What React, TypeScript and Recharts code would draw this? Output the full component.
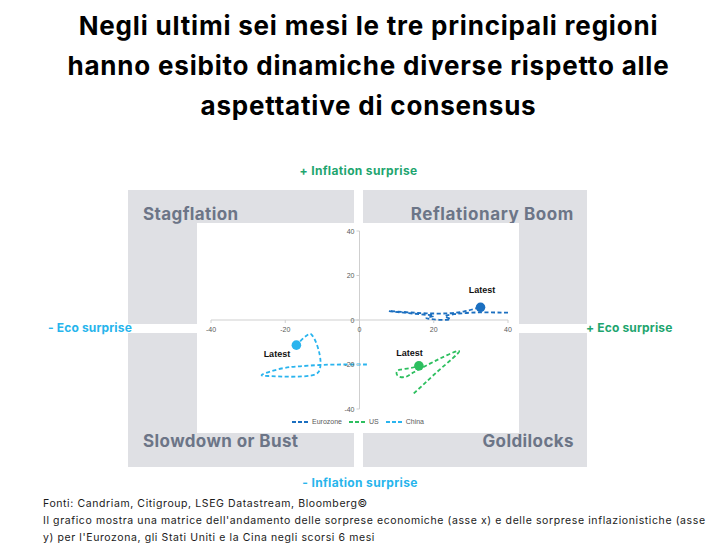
import React from "react";
import {
  ComposedChart,
  Line,
  XAxis,
  YAxis,
  ReferenceLine,
  ReferenceDot,
} from "recharts";

// axis ticks, both axes
const TICKS = [-40, -20, 0, 20, 40];

const SERIES_NAMES = ["Eurozone", "US", "China"];
const SERIES_COLORS = ["#1b6fc0", "#2dbf5f", "#2ab4ee"];

// eco surprise (x) / inflation surprise (y), last point = "Latest"
const euroX = [40, 35, 30, 25.5, 23, 24.5, 21.5, 18, 20, 15, 8, 12, 18, 24, 28, 30.5, 32.6];
const euroY = [3.3, 3.4, 3.3, 2.6, 1.6, 0.4, 0.1, 0.9, 1.8, 2.8, 4.0, 3.6, 3.0, 3.0, 3.8, 4.8, 5.7];

const usX = [14.6, 18, 22, 26.8, 23.6, 19.1, 14.6, 12.4, 10.4, 10, 11, 13.7, 16];
const usY = [-33, -27.8, -21.7, -14.3, -15.8, -19.5, -23.5, -25.6, -25.2, -23.3, -22.3, -21.6, -20.6];

const chinaX = [2, -4, -10.5, -16, -21, -26.2, -24, -18.6, -13.2, -11, -10.5, -10.7, -11.6, -12.8, -13.7, -15, -17];
const chinaY = [-20, -20, -20.2, -20.8, -21.8, -24.5, -25.2, -25.5, -25, -23.3, -20, -15.8, -10.5, -6.8, -6.4, -8, -11.3];

const toPoints = (xs: number[], ys: number[]) => xs.map((x, i) => ({ x, y: ys[i] }));
const seriesData = [toPoints(euroX, euroY), toPoints(usX, usY), toPoints(chinaX, chinaY)];

// where the "Latest" text sits relative to its dot
const LATEST_OFFSETS: [number, number][] = [[1.5, -14], [-9.5, -10], [-19.5, 12]];

const AXIS_COLOR = "#cfcfcf";
const TICK_TEXT = "#595959";
const GREEN = "#1ea56f";
const BLUE = "#27b5ec";
const BOX = "#dfe0e4";
const QUAD_TEXT = "#6c7587";
const HEAD_FONT = "Inter, 'Open Sans', sans-serif";
const CHART_FONT = "'Liberation Sans', Arial, sans-serif";

const xTick = (v: number) => (p: any) => (
  <g>
    <line x1={p.cx} y1={p.cy} x2={p.cx} y2={p.cy + 3} stroke={AXIS_COLOR} />
    <text x={p.cx} y={p.cy + 11.5} textAnchor="middle" fontSize={7} fill={TICK_TEXT} fontFamily={CHART_FONT}>
      {v}
    </text>
  </g>
);

const yTick = (v: number) => (p: any) => (
  <g>
    <line x1={p.cx - 3} y1={p.cy} x2={p.cx} y2={p.cy} stroke={AXIS_COLOR} />
    <text x={p.cx - 5} y={p.cy + 2.5} textAnchor="end" fontSize={7} fill={TICK_TEXT} fontFamily={CHART_FONT}>
      {v}
    </text>
  </g>
);

const latestDot = (i: number) => (p: any) => (
  <g>
    <circle cx={p.cx} cy={p.cy} r={4.8} fill={SERIES_COLORS[i]} />
    <text
      x={p.cx + LATEST_OFFSETS[i][0]}
      y={p.cy + LATEST_OFFSETS[i][1]}
      textAnchor="middle"
      fontSize={9}
      fontWeight={700}
      fill="#111"
      fontFamily={CHART_FONT}
    >
      Latest
    </text>
  </g>
);

function Text({
  children,
  left,
  top,
  width,
  align = "left",
  size,
  color,
  weight = 700,
  lh,
  ls = 0,
}: any) {
  return (
    <div
      style={{
        position: "absolute",
        left,
        top,
        width,
        textAlign: align,
        fontSize: size,
        color,
        fontWeight: weight,
        lineHeight: lh ? `${lh}px` : "1",
        letterSpacing: ls,
        fontFamily: HEAD_FONT,
        whiteSpace: "nowrap",
      }}
    >
      {children}
    </div>
  );
}

export default function App() {
  return (
    <div
      style={{
        position: "absolute",
        left: 0,
        top: 0,
        width: 718,
        height: 556,
        background: "#fff",
        overflow: "hidden",
      }}
    >
      <Text left={0} top={6} width={737} align="center" size={26} color="#000" lh={40} ls={0.8}>
        Negli ultimi sei mesi le tre principali regioni
        <br />
        hanno esibito dinamiche diverse rispetto alle
        <br />
        aspettative di consensus
      </Text>

      {/* quadrant boxes */}
      <div style={{ position: "absolute", left: 128, top: 190, width: 226, height: 134, background: BOX }} />
      <div style={{ position: "absolute", left: 363, top: 190, width: 224, height: 134, background: BOX }} />
      <div style={{ position: "absolute", left: 128, top: 333, width: 226, height: 134, background: BOX }} />
      <div style={{ position: "absolute", left: 363, top: 333, width: 224, height: 134, background: BOX }} />

      <Text left={143} top={206} size={17} color={QUAD_TEXT} ls={0.4}>Stagflation</Text>
      <Text left={373} top={206} width={201} align="right" size={17} color={QUAD_TEXT} ls={0.6}>Reflationary Boom</Text>
      <Text left={143} top={433} size={17} color={QUAD_TEXT} ls={0.4}>Slowdown or Bust</Text>
      <Text left={373} top={433} width={201} align="right" size={17} color={QUAD_TEXT} ls={0.4}>Goldilocks</Text>

      <Text left={0} top={165} width={717} align="center" size={12} color={GREEN} ls={0.35}>+ Inflation surprise</Text>
      <Text left={0} top={477} width={720} align="center" size={12} color={BLUE} ls={0.35}>- Inflation surprise</Text>
      <Text left={48} top={322} size={12} color={BLUE} ls={0.15}>- Eco surprise</Text>
      <Text left={586} top={322} size={12} color={GREEN} ls={0.15}>+ Eco surprise</Text>

      <div style={{ position: "absolute", left: 197, top: 223, width: 322, height: 210, background: "#fff" }}>
        <ComposedChart width={322} height={210} margin={{ top: 8, right: 11, bottom: 24, left: 14 }}>
          <XAxis type="number" dataKey="x" domain={[-40, 40]} ticks={TICKS} hide allowDataOverflow />
          <YAxis type="number" dataKey="y" domain={[-40, 40]} ticks={TICKS} hide allowDataOverflow />
          <ReferenceLine x={0} stroke={AXIS_COLOR} strokeWidth={1} />
          <ReferenceLine y={0} stroke={AXIS_COLOR} strokeWidth={1} />
          {TICKS.map((t) => (
            <ReferenceDot key={`x${t}`} x={t} y={0} r={0} ifOverflow="visible" shape={xTick(t)} />
          ))}
          {TICKS.map((t) => (
            <ReferenceDot key={`y${t}`} x={0} y={t} r={0} ifOverflow="visible" shape={yTick(t)} />
          ))}
          {seriesData.map((pts, i) => (
            <Line
              key={SERIES_NAMES[i]}
              data={pts}
              dataKey="y"
              type="natural"
              stroke={SERIES_COLORS[i]}
              strokeWidth={1.8}
              strokeDasharray="4 2.5"
              dot={false}
              activeDot={false}
              isAnimationActive={false}
            />
          ))}
          {seriesData.map((pts, i) => (
            <ReferenceDot
              key={`latest${i}`}
              x={pts[pts.length - 1].x}
              y={pts[pts.length - 1].y}
              r={0}
              ifOverflow="visible"
              shape={latestDot(i)}
            />
          ))}
        </ComposedChart>
      </div>

      {/* legend */}
      <div
        style={{
          position: "absolute",
          left: 197,
          top: 417,
          width: 322,
          display: "flex",
          justifyContent: "center",
          gap: 7,
          fontFamily: CHART_FONT,
          fontSize: 7,
          color: TICK_TEXT,
          lineHeight: "9px",
        }}
      >
        {SERIES_NAMES.map((n, i) => (
          <div key={n} style={{ display: "flex", alignItems: "center", gap: 2 }}>
            <svg width={18} height={4}>
              <line x1={0} y1={2} x2={18} y2={2} stroke={SERIES_COLORS[i]} strokeWidth={2} strokeDasharray="4 2" />
            </svg>
            <span>{n}</span>
          </div>
        ))}
      </div>

      <div
        style={{
          position: "absolute",
          left: 43,
          top: 495,
          width: 675,
          fontFamily: HEAD_FONT,
          fontSize: 10.5,
          letterSpacing: 0.6,
          lineHeight: "17px",
          color: "#1a1a1a",
          whiteSpace: "nowrap",
        }}
      >
        Fonti: Candriam, Citigroup, LSEG Datastream, Bloomberg©
        <br />
        Il grafico mostra una matrice dell'andamento delle sorprese economiche (asse x) e delle sorprese inflazionistiche (asse
        <br />
        y) per l'Eurozona, gli Stati Uniti e la Cina negli scorsi 6 mesi
      </div>
    </div>
  );
}
